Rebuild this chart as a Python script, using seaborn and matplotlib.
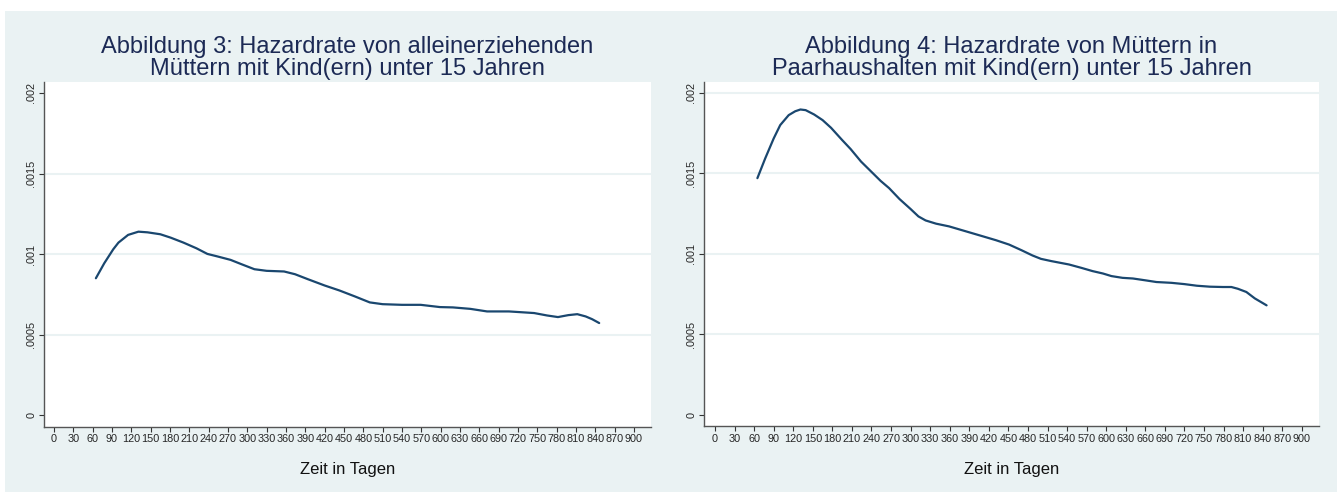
import matplotlib
matplotlib.use("Agg")
import matplotlib.pyplot as plt
from matplotlib.patches import Rectangle
import seaborn as sns
import pandas as pd
import numpy as np

sns.set_style("white")
plt.rcParams['font.family'] = ['Liberation Sans', 'DejaVu Sans']

# Abbildung 3: alleinerziehende Muetter
tage_3 = [65, 78, 92, 100, 115, 131, 145, 165, 181, 201, 221, 238, 254, 274, 291,
          311, 330, 357, 374, 394, 420, 443, 467, 490, 510, 540, 569, 599, 619,
          646, 672, 706, 745, 765, 782, 798, 812, 825, 835, 846]
rate_3 = [0.000850, 0.000943, 0.001030, 0.001071, 0.001119, 0.001139, 0.001135,
          0.001123, 0.001102, 0.001071, 0.001036, 0.001001, 0.000985, 0.000964,
          0.000937, 0.000906, 0.000896, 0.000892, 0.000875, 0.000844, 0.000805,
          0.000774, 0.000737, 0.000700, 0.000689, 0.000685, 0.000685, 0.000671,
          0.000669, 0.000660, 0.000644, 0.000644, 0.000634, 0.000619, 0.000609,
          0.000621, 0.000627, 0.000613, 0.000596, 0.000572]

# Abbildung 4: Muetter in Paarhaushalten
tage_4 = [65, 77, 90, 100, 113, 123, 131, 139, 152, 165, 178, 195, 208, 224, 241,
          254, 267, 283, 300, 312, 323, 339, 359, 385, 411, 431, 451, 470, 487,
          500, 516, 543, 562, 579, 595, 608, 625, 641, 661, 677, 700, 720, 739,
          759, 779, 792, 802, 815, 828, 846]
rate_4 = [0.001470, 0.001593, 0.001717, 0.001800, 0.001862, 0.001886, 0.001897,
          0.001893, 0.001866, 0.001831, 0.001783, 0.001707, 0.001651, 0.001573,
          0.001505, 0.001453, 0.001408, 0.001340, 0.001278, 0.001232, 0.001207,
          0.001187, 0.001170, 0.001139, 0.001108, 0.001084, 0.001057, 0.001022,
          0.000989, 0.000968, 0.000954, 0.000933, 0.000912, 0.000892, 0.000877,
          0.000861, 0.000850, 0.000846, 0.000834, 0.000824, 0.000819, 0.000811,
          0.000801, 0.000795, 0.000793, 0.000793, 0.000782, 0.000762, 0.000722,
          0.000679]

titel_3 = "Abbildung 3: Hazardrate von alleinerziehenden\nMüttern mit Kind(ern) unter 15 Jahren"
titel_4 = "Abbildung 4: Hazardrate von Müttern in\nPaarhaushalten mit Kind(ern) unter 15 Jahren"

x_ticks = list(range(0, 901, 30))
y_ticks = [0, 0.0005, 0.001, 0.0015, 0.002]
y_labels = ["0", ".0005", ".001", ".0015", ".002"]

bg = '#eaf2f3'
line_col = '#1a476f'
title_col = '#1c2a55'

fig = plt.figure(figsize=(13.37, 4.92), dpi=100)
fig.patch.set_facecolor('white')
# Stata-artiger Hintergrund
fig.add_artist(Rectangle((5 / 1337, 0), 1, (492 - 11) / 492, transform=fig.transFigure,
                         facecolor=bg, edgecolor='none', zorder=-10))

ax1 = fig.add_axes([44 / 1337, 65.3 / 492, 607 / 1337, 344.7 / 492])
ax2 = fig.add_axes([704 / 1337, 66 / 492, 615 / 1337, 344 / 492])

panels = [
    (ax1, tage_3, rate_3, titel_3, (-15.5, 926.4), [0.0005, 0.001, 0.0015]),
    (ax2, tage_4, rate_4, titel_4, (-16.9, 926.4), [0.0005, 0.001, 0.0015, 0.002]),
]

for ax, tage, rate, titel, xlim, grid in panels:
    df = pd.DataFrame({'Zeit': tage, 'Rate': rate})
    ax.set_facecolor('white')
    for g in grid:
        ax.axhline(g, color=bg, lw=1.5, zorder=1)
    sns.lineplot(data=df, x='Zeit', y='Rate', ax=ax, color=line_col, lw=1.6, zorder=3)
    ax.set_xlim(*xlim)
    ax.set_ylim(-0.0000714, 0.002068)
    ax.set_xticks(x_ticks)
    ax.set_xticklabels([str(t) for t in x_ticks])
    ax.set_yticks(y_ticks)
    ax.set_yticklabels(y_labels)
    plt.setp(ax.get_yticklabels(), rotation=90, va='center')
    ax.tick_params(axis='both', labelsize=7.8, length=3.5, width=0.8, color='#333333',
                   pad=2, direction='out', bottom=True, left=True)
    for side in ['top', 'right']:
        ax.spines[side].set_visible(False)
    for side in ['left', 'bottom']:
        ax.spines[side].set_color('#555555')
        ax.spines[side].set_linewidth(1.0)
    ax.set_xlabel("Zeit in Tagen", fontsize=12, labelpad=13, color='#111111')
    ax.set_ylabel("")
    ax.set_title(titel, fontsize=17, color=title_col, pad=5, linespacing=1.0)

fig.savefig('out.png', dpi=100, facecolor=fig.get_facecolor())
